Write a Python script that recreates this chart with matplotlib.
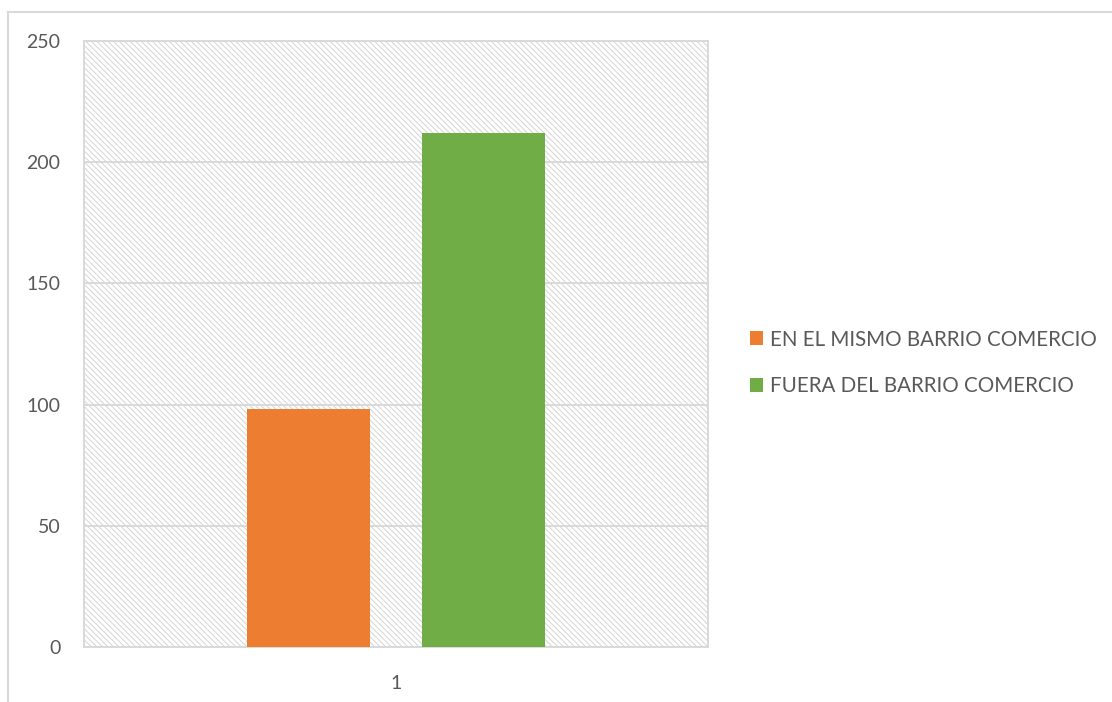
import matplotlib
matplotlib.use("Agg")
import matplotlib.pyplot as plt
from matplotlib.patches import Rectangle
from matplotlib.lines import Line2D

# valores de la encuesta
categorias = ["1"]
series = ["EN EL MISMO BARRIO COMERCIO", "FUERA DEL BARRIO COMERCIO"]
valores = [98, 212]
colores = ["#ED7D31", "#70AD47"]
yticks = [0, 50, 100, 150, 200, 250]

plt.rcParams["font.family"] = ["Lato", "DejaVu Sans"]
plt.rcParams["hatch.linewidth"] = 0.7

fig = plt.figure(figsize=(11.12, 7.02), dpi=100)
ax = fig.add_axes([84 / 1112, 55 / 702, 624 / 1112, 606 / 702])

# fondo rayado del area de trazado
ax.add_patch(Rectangle((0, 0), 1, 1, transform=ax.transAxes, facecolor="white",
                       edgecolor="#d4d4d4", hatch="\\" * 6, lw=0, zorder=0))

ancho = 0.197
desplaz = [-0.14, 0.14]
for nombre, v, c, d in zip(series, valores, colores, desplaz):
    ax.bar(1 + d, v, width=ancho, color=c, label=nombre, zorder=3)

ax.set_xlim(0.5, 1.5)
ax.set_ylim(0, 250)
ax.set_xticks([1])
ax.set_xticklabels(categorias)
ax.set_yticks(yticks)
ax.yaxis.grid(True, color="#d9d9d9", lw=1.4, zorder=1)
ax.set_axisbelow(False)
ax.tick_params(length=0, labelsize=14, labelcolor="#595959")
ax.tick_params(axis="x", pad=20)
ax.tick_params(axis="y", pad=17)
for s in ax.spines.values():
    s.set_color("#d9d9d9")
    s.set_linewidth(1.4)

leg = fig.legend(loc="upper left", bbox_to_anchor=(731 / 1112, 1 - 311 / 702),
                 frameon=False, fontsize=14.8, handlelength=0.65, handleheight=0.65,
                 handletextpad=0.35, labelspacing=1.3, labelcolor="#595959")

# borde exterior del grafico
fig.add_artist(Line2D([8 / 1112, 8 / 1112], [0, 1 - 12 / 702], color="#d9d9d9", lw=1.5))
fig.add_artist(Line2D([8 / 1112, 1], [1 - 12 / 702, 1 - 12 / 702], color="#d9d9d9", lw=1.5))

fig.savefig("out.png", dpi=100)
